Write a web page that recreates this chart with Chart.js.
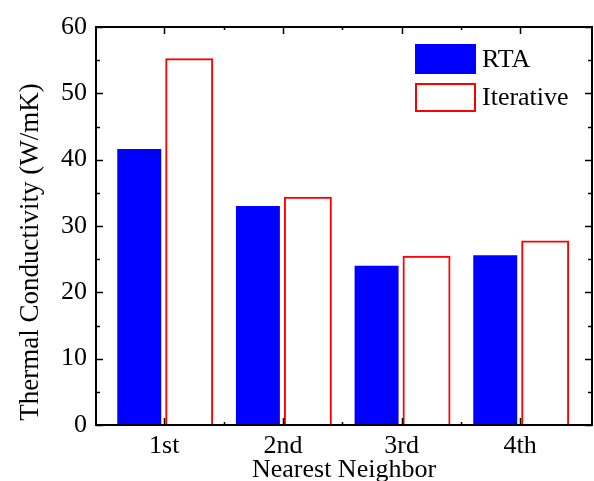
<!DOCTYPE html>
<html>
<head>
<meta charset="utf-8">
<script src="https://cdn.jsdelivr.net/npm/chart.js@4/dist/chart.umd.min.js"></script>
<style>
  html, body { margin: 0; padding: 0; background: #fff; }
  #wrap { width: 594px; height: 481px; }
</style>
</head>
<body>
<div id="wrap"><canvas id="c" width="594" height="481"></canvas></div>
<script>
// ---- data ----
const neighbors = ["1st", "2nd", "3rd", "4th"];
const rta = [41.6, 33.0, 24.0, 25.6];
const iterative = [55.3, 34.4, 25.5, 27.8];
const yTicks = [0, 10, 20, 30, 40, 50, 60];

const FONT = "'Liberation Serif', 'Times New Roman', serif";

const pts = arr => arr.map((v, i) => ({ x: i + 1, y: v }));

// frame + inward ticks, axis titles, legend
const decor = {
  id: "decor",
  afterDraw(chart) {
    const { ctx, chartArea: a, scales } = chart;
    const xs = scales.x, ys = scales.y;
    ctx.save();
    ctx.strokeStyle = "#000";
    ctx.lineWidth = 2;
    ctx.strokeRect(a.left, a.top, a.right - a.left, a.bottom - a.top);

    ctx.lineWidth = 1.5;
    ctx.beginPath();
    // y ticks (major + minor) on both sides
    for (let v = 0; v <= 60; v += 5) {
      const py = Math.round(ys.getPixelForValue(v)) + 0.5;
      const len = v % 10 === 0 ? 7 : 4;
      ctx.moveTo(a.left, py); ctx.lineTo(a.left + len, py);
      ctx.moveTo(a.right, py); ctx.lineTo(a.right - len, py);
    }
    // x ticks at categories, minor halfway
    for (let i = 0; i < neighbors.length; i++) {
      const px = Math.round(xs.getPixelForValue(i + 1)) + 0.5;
      ctx.moveTo(px, a.bottom); ctx.lineTo(px, a.bottom - 7);
      ctx.moveTo(px, a.top); ctx.lineTo(px, a.top + 7);
      if (i < neighbors.length - 1) {
        const mx = Math.round(xs.getPixelForValue(i + 1.5)) + 0.5;
        ctx.moveTo(mx, a.bottom); ctx.lineTo(mx, a.bottom - 3);
        ctx.moveTo(mx, a.top); ctx.lineTo(mx, a.top + 3);
      }
    }
    ctx.stroke();

    // axis titles
    ctx.fillStyle = "#000";
    ctx.font = "26px " + FONT;
    ctx.textAlign = "center";
    ctx.textBaseline = "alphabetic";
    ctx.fillText("Nearest Neighbor", (a.left + a.right) / 2, 477);
    ctx.save();
    ctx.translate(38, 252);
    ctx.rotate(-Math.PI / 2);
    ctx.font = "27px " + FONT;
    ctx.fillText("Thermal Conductivity (W/mK)", 0, 0);
    ctx.restore();

    // legend
    const bx = 415, bw = 61;
    const rows = [{ y: 44, h: 30 }, { y: 83, h: 29 }];
    chart.data.datasets.forEach((ds, i) => {
      const r = rows[i];
      if (ds.backgroundColor !== "rgba(0,0,0,0)") {
        ctx.fillStyle = ds.backgroundColor;
        ctx.fillRect(bx, r.y, bw, r.h);
      } else {
        ctx.strokeStyle = ds.borderColor;
        ctx.lineWidth = 2;
        ctx.strokeRect(bx + 1, r.y + 1, bw - 2, r.h - 2);
      }
      ctx.fillStyle = "#000";
      ctx.font = "26px " + FONT;
      ctx.textAlign = "left";
      ctx.textBaseline = "middle";
      ctx.fillText(ds.label, 482, r.y + r.h / 2 + 1);
    });
    ctx.restore();
  }
};

new Chart(document.getElementById("c"), {
  type: "bar",
  data: {
    datasets: [
      {
        label: "RTA",
        data: pts(rta),
        backgroundColor: "#0000ff",
        borderWidth: 0,
        categoryPercentage: 0.842,
        barPercentage: 0.88
      },
      {
        label: "Iterative",
        data: pts(iterative),
        backgroundColor: "rgba(0,0,0,0)",
        borderColor: "#ff0000",
        borderWidth: 2,
        categoryPercentage: 0.842,
        barPercentage: 0.96
      }
    ]
  },
  options: {
    responsive: false,
    animation: false,
    layout: { padding: { top: 27, right: 2, left: 0, bottom: 0 } },
    plugins: { legend: { display: false }, tooltip: { enabled: false } },
    scales: {
      x: {
        type: "linear",
        offset: false,
        min: 0.425,
        max: 4.605,
        grid: { display: false, drawTicks: false },
        border: { display: false },
        afterBuildTicks: s => { s.ticks = neighbors.map((_, i) => ({ value: i + 1 })); },
        ticks: {
          padding: 6,
          color: "#000",
          font: { family: FONT, size: 26 },
          callback: v => neighbors[v - 1]
        },
        afterFit: s => { s.height = 56; }
      },
      y: {
        min: 0,
        max: 60,
        grid: { display: false, drawTicks: false },
        border: { display: false },
        afterBuildTicks: s => { s.ticks = yTicks.map(v => ({ value: v })); },
        ticks: {
          padding: 9,
          color: "#000",
          font: { family: FONT, size: 26 }
        },
        afterFit: s => { s.width = 96; }
      }
    }
  },
  plugins: [decor]
});
</script>
</body>
</html>
